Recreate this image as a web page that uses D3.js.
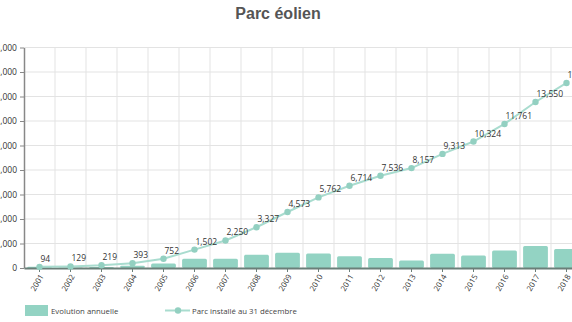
<!DOCTYPE html>
<html>
<head>
<meta charset="utf-8">
<script src="https://cdn.jsdelivr.net/npm/d3@7"></script>
<style>
  body { margin: 0; background: #fff; }
  svg { display: block; }
</style>
</head>
<body>
<script>
// data
var years = ["2001", "2002", "2003", "2004", "2005", "2006", "2007", "2008", "2009", "2010",
  "2011", "2012", "2013", "2014", "2015", "2016", "2017", "2018", "2019"];
var parc = [94, 129, 219, 393, 752, 1502, 2250, 3327, 4573, 5762,
  6714, 7536, 8157, 9313, 10324, 11761, 13550, 15108];
var evolution = [94, 35, 90, 174, 359, 750, 748, 1077, 1246, 1189,
  952, 822, 621, 1156, 1011, 1437, 1789, 1558];
var yTicks = [0, 2000, 4000, 6000, 8000, 10000, 12000, 14000, 16000, 18000];

var w = 572, h = 322;
var svg = d3.select("body").append("svg").attr("width", w).attr("height", h);
var font = "'Open Sans', 'DejaVu Sans', sans-serif";

var x = d3.scaleBand()
  .domain(years)
  .range([24, 24 + 31 * 19])
  .paddingInner(0.2)
  .paddingOuter(0.1);
var y = d3.scaleLinear().domain([0, 18000]).range([268, 47.5]);

// horizontal grid
svg.append("g")
  .selectAll("line")
  .data(yTicks.slice(1))
  .enter()
  .append("line")
  .attr("x1", 24).attr("x2", w)
  .attr("y1", d => y(d)).attr("y2", d => y(d))
  .attr("stroke", "#e3e3e3");

// vertical grid between years
svg.append("g")
  .selectAll("line")
  .data(years)
  .enter()
  .append("line")
  .attr("x1", d => x(d) + x.bandwidth() + x.step() * 0.1)
  .attr("x2", d => x(d) + x.bandwidth() + x.step() * 0.1)
  .attr("y1", y(18000)).attr("y2", y(0))
  .attr("stroke", "#e3e3e3");

// bars
svg.append("g")
  .selectAll("rect")
  .data(evolution)
  .enter()
  .append("rect")
  .attr("x", (d, i) => x(years[i]))
  .attr("y", d => y(d))
  .attr("width", x.bandwidth())
  .attr("height", d => y(0) - y(d))
  .attr("rx", 1.5)
  .attr("fill", "#93d3c3");

// y axis
var yAxis = svg.append("g")
  .attr("transform", "translate(24,0)")
  .call(d3.axisLeft(y).tickValues(yTicks).tickFormat(d3.format(",")).tickSize(4).tickSizeOuter(0));
yAxis.select(".domain").attr("stroke", "#888").attr("stroke-width", 1.5);
yAxis.selectAll(".tick line").attr("stroke", "#888");
yAxis.selectAll("text").attr("font-family", font).attr("font-size", 8.5).attr("fill", "#333").attr("x", -7);

// x axis
var xAxis = svg.append("g")
  .attr("transform", "translate(0," + y(0) + ")")
  .call(d3.axisBottom(x).tickSize(4).tickSizeOuter(0));
xAxis.select(".domain").attr("stroke", "#6b7f79").attr("stroke-width", 2);
xAxis.selectAll(".tick line").attr("stroke", "#6b7f79");
xAxis.selectAll("text")
  .attr("font-family", font)
  .attr("font-size", 7.8)
  .attr("fill", "#333")
  .attr("text-anchor", "end")
  .attr("x", 0)
  .attr("y", 0)
  .attr("dy", "0.35em")
  .attr("transform", "translate(2,7) rotate(-60)");

// line
var cx = (d, i) => x(years[i]) + x.bandwidth() / 2;
var line = d3.line().x(cx).y(d => y(d));
svg.append("path")
  .datum(parc)
  .attr("d", line)
  .attr("fill", "none")
  .attr("stroke", "#a9dccf")
  .attr("stroke-width", 2);

svg.append("g")
  .selectAll("circle")
  .data(parc)
  .enter()
  .append("circle")
  .attr("cx", cx)
  .attr("cy", d => y(d))
  .attr("r", 3.2)
  .attr("fill", "#93d0c1");

svg.append("g")
  .selectAll("text")
  .data(parc)
  .enter()
  .append("text")
  .attr("x", (d, i) => cx(d, i) + 1)
  .attr("y", d => y(d) - 5)
  .attr("font-family", font)
  .attr("font-size", 8.5)
  .attr("fill", "#333")
  .text(d => d3.format(",")(d));

// title
svg.append("text")
  .attr("x", 278)
  .attr("y", 19)
  .attr("text-anchor", "middle")
  .attr("font-family", "'Liberation Sans', Arial, sans-serif")
  .attr("font-weight", "bold")
  .attr("font-size", 16)
  .attr("fill", "#555")
  .text("Parc éolien");

// legend
var lg = svg.append("g");
lg.append("rect")
  .attr("x", 25).attr("y", 305).attr("width", 23).attr("height", 11)
  .attr("fill", "#93d3c3");
lg.append("text")
  .attr("x", 51).attr("y", 313.5)
  .attr("font-family", font).attr("font-size", 7.8).attr("fill", "#444")
  .text("Evolution annuelle");
lg.append("line")
  .attr("x1", 165).attr("x2", 190).attr("y1", 310.5).attr("y2", 310.5)
  .attr("stroke", "#a9dccf").attr("stroke-width", 2);
lg.append("circle")
  .attr("cx", 178).attr("cy", 310.5).attr("r", 3.2)
  .attr("fill", "#93d0c1");
lg.append("text")
  .attr("x", 192).attr("y", 313.5)
  .attr("font-family", font).attr("font-size", 7.8).attr("fill", "#444")
  .text("Parc installé au 31 décembre");
</script>
</body>
</html>
